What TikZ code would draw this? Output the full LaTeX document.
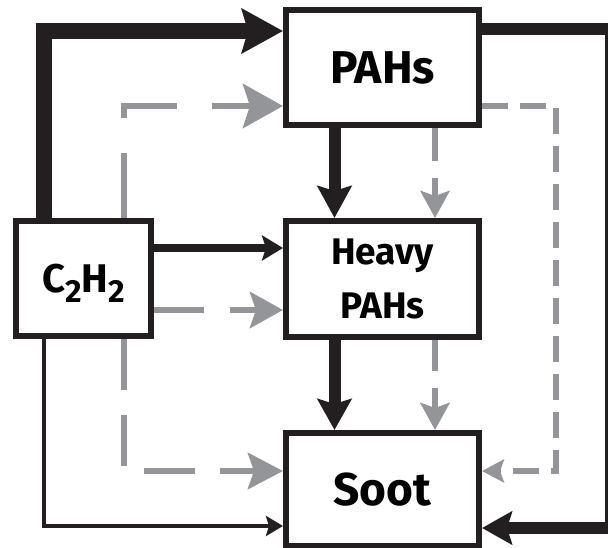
\documentclass[tikz,border=0pt]{standalone}
\usepackage{fontspec}
\setmainfont{Fira Sans}
\usetikzlibrary{arrows.meta}
\definecolor{ink}{RGB}{35,31,32}
\definecolor{gr}{RGB}{147,149,152}
\begin{document}
\begin{tikzpicture}[x=1pt,y=-1pt,
  box/.style={draw=ink, line width=6pt, fill=white, inner sep=0pt},
  bigfont/.style={font={\bfseries\fontsize{46}{46}\selectfont}},
  blk/.style={draw=ink, line join=miter},
  gry/.style={draw=gr},
]
\useasboundingbox (0,0) rectangle (608,548);
\clip (0,0) rectangle (608,548);

% nodes
\node[box, bigfont, minimum width=193pt, minimum height=115pt] (p) at (382.5,67.5) {PAHs};
\node[box, align=center, font={\bfseries\fontsize{37}{54}\selectfont}, minimum width=193pt, minimum height=116pt] (h) at (382.5,279) {Heavy\\PAHs};
\node[box, bigfont, minimum width=193pt, minimum height=113pt] (s) at (382.5,489.5) {Soot};
\node[box, font={\bfseries\fontsize{40}{40}\selectfont}, text depth=0pt, minimum width=135pt, minimum height=115pt] (c) at (83.5,278.5)
  {C\raisebox{-10pt}{\fontsize{32}{32}\selectfont 2}H\raisebox{-10pt}{\fontsize{32}{32}\selectfont 2}};

% helper coordinates
\coordinate (x1) at (43.5,0);
\coordinate (y1) at (0,31);
\coordinate (y1r) at (0,29);
\coordinate (cR) at (611,528);
\coordinate (x3) at (334.5,0);
\coordinate (y5) at (0,248);
\coordinate (y6) at (0,526);
\coordinate (x7) at (124,0);
\coordinate (y7) at (0,106);
\coordinate (cG) at (556,471);
\coordinate (x9) at (435,0);
\coordinate (y11) at (0,310);

% black connectors
\draw[blk, line width=16pt, -{Stealth[length=41pt,width=44pt,inset=6pt]}]
  (c.north -| x1) |- (p.west |- y1);
\draw[blk, line width=12pt, -{Stealth[length=30pt,width=33pt,inset=5pt]}]
  (p.east |- y1r) -| (cR) -- (s.east |- cR);
\draw[blk, line width=12pt, -{Stealth[length=32pt,width=34pt,inset=5pt]}]
  (p.south -| x3) -- (h.north -| x3);
\draw[blk, line width=12pt, -{Stealth[length=31pt,width=34pt,inset=5pt]}]
  (h.south -| x3) -- (s.north -| x3);
\draw[blk, line width=8pt, -{Stealth[length=21pt,width=25pt,inset=4pt]}]
  (c.east |- y5) -- (h.west |- y5);
\draw[blk, line width=4pt, -{Stealth[length=17pt,width=20pt,inset=3pt]}]
  (c.south -| x1) |- (s.west |- y6);

% grey dashed connectors
\draw[gry, line width=6.5pt, dash pattern=on 65pt off 35pt, -{Stealth[length=40pt,width=44pt,inset=7pt]}]
  (c.north -| x7) |- (p.west |- y7);
\draw[gry, line width=6pt, dash pattern=on 26pt off 12pt, -{Stealth[length=22pt,width=23pt,inset=4pt]}]
  (p.east |- y7) -| (cG) -- (s.east |- cG);
\draw[gry, line width=6pt, dash pattern=on 33pt off 17pt, -{Stealth[length=27pt,width=29pt,inset=5pt]}]
  (p.south -| x9) -- (h.north -| x9);
\draw[gry, line width=6pt, dash pattern=on 31pt off 17pt, -{Stealth[length=27pt,width=29pt,inset=5pt]}]
  (h.south -| x9) -- (s.north -| x9);
\draw[gry, line width=6.5pt, dash pattern=on 50pt off 26pt, -{Stealth[length=33pt,width=36pt,inset=6pt]}]
  (c.east |- y11) -- (h.west |- y11);
\draw[gry, line width=6.5pt, dash pattern=on 51pt off 25pt, -{Stealth[length=35pt,width=36pt,inset=6pt]}]
  (c.south -| x7) |- (s.west |- cG);
\end{tikzpicture}
\end{document}
